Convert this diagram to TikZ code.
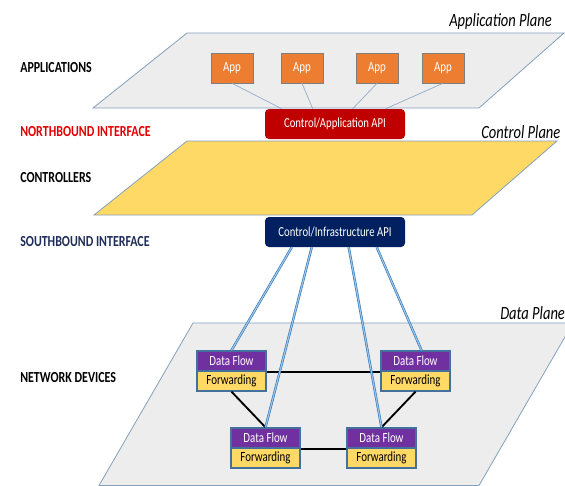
\documentclass[tikz,border=0pt]{standalone}
\usepackage{fontspec}
\setmainfont{Carlito}[FakeStretch=0.78]
\usepackage{xcolor}
\usetikzlibrary{calc}

\definecolor{planegray}{RGB}{237,237,237}
\definecolor{planeedge}{RGB}{132,160,188}
\definecolor{ctrlyellow}{RGB}{255,217,102}
\definecolor{apporange}{RGB}{237,125,49}
\definecolor{apiRed}{RGB}{192,0,0}
\definecolor{apiNavy}{RGB}{0,32,96}
\definecolor{flowpurple}{RGB}{112,48,160}
\definecolor{devedge}{RGB}{65,113,156}
\definecolor{sbblue}{RGB}{46,117,182}
\definecolor{sblight}{RGB}{157,195,230}
\definecolor{nbred}{RGB}{224,0,0}
\definecolor{sbnavy}{RGB}{31,45,90}

\begin{document}
\begin{tikzpicture}[x=0.75pt,y=0.75pt,yscale=-1,xscale=1,
  plane/.style={draw=planeedge,line width=0.6pt},
  appbox/.style={draw={rgb,255:red,127;green,127;blue,127},fill=apporange,text=white,
    minimum width=31.5pt,minimum height=22.5pt,inner sep=0pt,font=\fontsize{10.5}{12}\selectfont},
  apibox/.style={rounded corners=3pt,text=white,minimum width=105pt,minimum height=22.5pt,
    inner sep=0pt,font=\fontsize{10.3}{12}\selectfont},
  flowbox/.style={draw=devedge,line width=1pt,fill=flowpurple,text=white,minimum width=51.75pt,
    minimum height=15pt,inner sep=0pt,font=\fontsize{10.5}{12}\selectfont},
  fwdbox/.style={flowbox,fill=ctrlyellow,text=black},
  layerlabel/.style={anchor=west,inner sep=0pt,font=\fontsize{11.5}{13}\selectfont\bfseries},
  planelabel/.style={anchor=west,inner sep=0pt,font=\fontsize{14}{16}\selectfont\itshape},
  nbline/.style={draw={rgb,255:red,143;green,170;blue,200},line width=0.5pt},
  sbline/.style={draw=sbblue,double=sblight,double distance=0.9pt,line width=0.45pt},
  linkline/.style={draw=black,line width=1.4pt}]
\useasboundingbox (0,0) rectangle (565,486);
\clip (0,0) rectangle (565,486);

%Shape: Parallelogram
\draw[plane,fill=planegray] (187,33) -- (564,33) -- (479,108) -- (93,108) -- cycle ;
%Shape: Parallelogram
\draw[plane,fill=ctrlyellow] (187,141) -- (557,141) -- (472,215) -- (94,215) -- cycle ;
%Shape: Parallelogram
\draw[plane,fill=planegray] (193,323) -- (573,323) -- (479,485.5) -- (99,485.5) -- cycle ;

% Apps
\node[appbox] (appA) at (232,68) {App};
\node[appbox] (appB) at (302,68) {App};
\node[appbox] (appC) at (377,68) {App};
\node[appbox] (appD) at (443,68) {App};

% APIs
\node[apibox,fill=apiRed] (capi) at (335,124) {Control/Application API};
\node[apibox,fill=apiNavy] (iapi) at (335,232) {Control/Infrastructure API};

%Straight Lines
\draw[nbline] (appA.south) -- ($(capi.north west)+(17,0)$) ;
\draw[nbline] (appB.south) -- ($(capi.north west)+(48,0)$) ;
\draw[nbline] (appC.south) -- ($(capi.north west)+(88,0)$) ;
\draw[nbline] (appD.south) -- ($(capi.north west)+(121,0)$) ;

% Network devices
\node[flowbox] (flowA) at (231.5,361) {Data Flow};
\node[fwdbox] (fwdA) at (231.5,381) {Forwarding};
\node[flowbox] (flowB) at (415.5,361) {Data Flow};
\node[fwdbox] (fwdB) at (415.5,381) {Forwarding};
\node[flowbox] (flowC) at (265.5,438) {Data Flow};
\node[fwdbox] (fwdC) at (265.5,458) {Forwarding};
\node[flowbox] (flowD) at (381.5,438) {Data Flow};
\node[fwdbox] (fwdD) at (381.5,458) {Forwarding};

%Straight Lines
\draw[linkline] (flowA.south east) -- (flowB.south west) ;
\draw[linkline] (fwdA.south) -- (flowC.north) ;
\draw[linkline] (fwdB.south) -- (flowD.north) ;
\draw[linkline] (flowC.south east) -- (flowD.south west) ;

%Straight Lines
\draw[sbline] ($(iapi.south west)+(27,0)$) -- (flowA.north) ;
\draw[sbline] ($(iapi.south west)+(47,0)$) -- (flowC.north) ;
\draw[sbline] ($(iapi.south west)+(84,0)$) -- (flowD.north) ;
\draw[sbline] ($(iapi.south west)+(112,0)$) -- ($(flowB.north)+(6,0)$) ;

% Text Node
\node[layerlabel] (lblApps) at (20,68) {APPLICATIONS};
% Text Node
\node[layerlabel,text=nbred] (lblNorth) at (20,132) {NORTHBOUND INTERFACE};
% Text Node
\node[layerlabel] (lblCtrl) at (20,178) {CONTROLLERS};
% Text Node
\node[layerlabel,text=sbnavy] (lblSouth) at (20,242) {SOUTHBOUND INTERFACE};
% Text Node
\node[layerlabel] (lblDev) at (20,378) {NETWORK DEVICES};
% Text Node
\node[planelabel] (lblAppPlane) at (449,22) {Application Plane};
% Text Node
\node[planelabel] (lblCtrlPlane) at (481,132) {Control Plane};
% Text Node
\node[planelabel] (lblDataPlane) at (500,313) {Data Plane};
\end{tikzpicture}
\end{document}
